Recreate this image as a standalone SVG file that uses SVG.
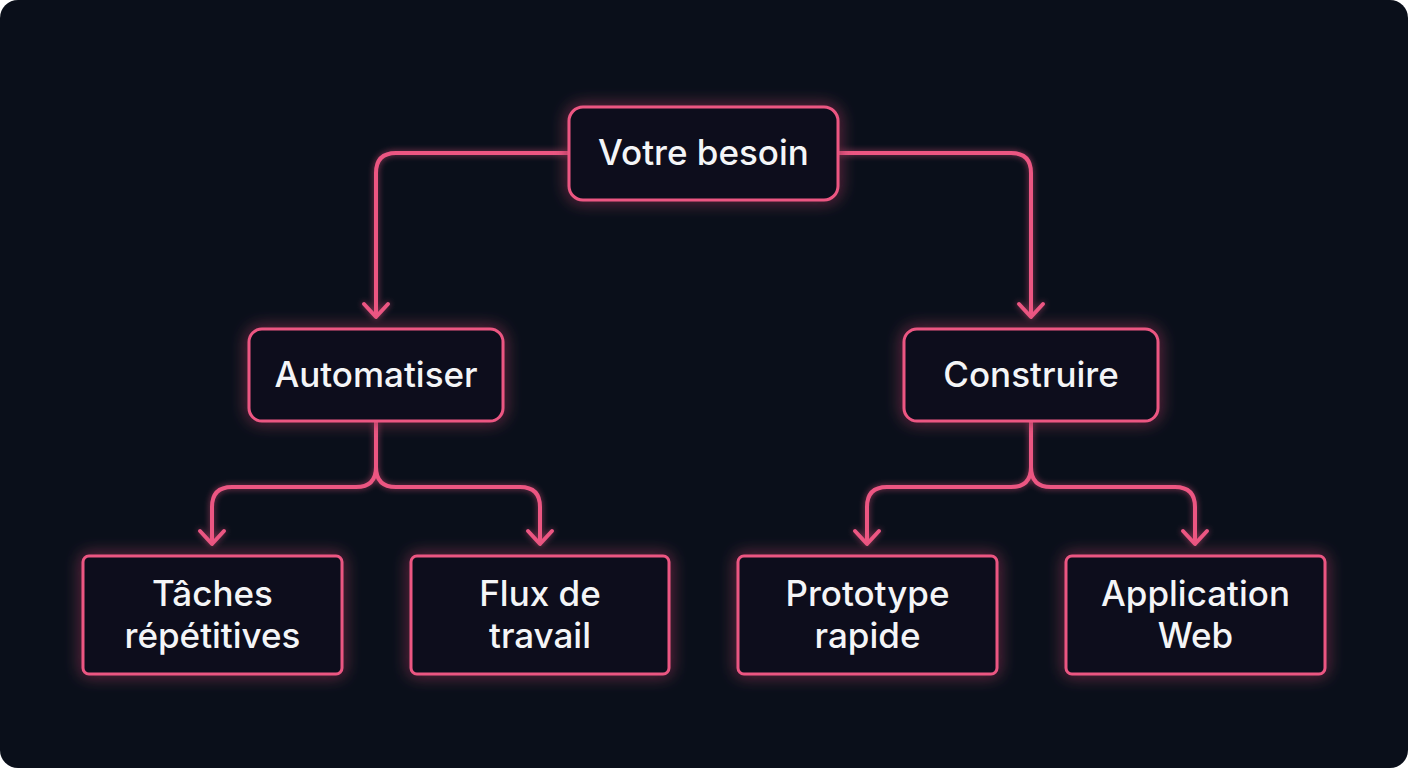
<svg xmlns="http://www.w3.org/2000/svg" width="1408" height="768" viewBox="0 0 1408 768">
<defs>
<style>
.box{fill:#0b0f1c;stroke:#ec5682;stroke-width:3}
.lbl{font-family:Inter,"Noto Sans",sans-serif;font-size:35px;font-weight:500;fill:#f4f5f7;text-anchor:middle}
.con{fill:none;stroke:#ec5682;stroke-width:4;stroke-linecap:round;stroke-linejoin:round}
</style>
<filter id="glow" x="-30%" y="-40%" width="160%" height="180%">
<feGaussianBlur in="SourceGraphic" stdDeviation="8" result="b"/>
<feComponentTransfer in="b" result="b2"><feFuncA type="linear" slope="0.8"/></feComponentTransfer>
<feMerge><feMergeNode in="b2"/><feMergeNode in="SourceGraphic"/></feMerge>
</filter>
<filter id="lglow" x="-10%" y="-10%" width="120%" height="120%">
<feGaussianBlur in="SourceGraphic" stdDeviation="3" result="b"/>
<feComponentTransfer in="b" result="b2"><feFuncA type="linear" slope="0.6"/></feComponentTransfer>
<feMerge><feMergeNode in="b2"/><feMergeNode in="SourceGraphic"/></feMerge>
</filter>
</defs>
<rect x="0" y="0" width="1408" height="768" rx="18" fill="#0a0f1a"/>
<g id="connectors" class="con" filter="url(#lglow)">
<path d="M569 153 H396 Q376 153 376 173 V316"/>
<path d="M364 304 L376 317 L388 304"/>
<path d="M838 153 H1011 Q1031 153 1031 173 V316"/>
<path d="M1019 304 L1031 317 L1043 304"/>
<path d="M376 421 V467 Q376 487 356 487 H232 Q212 487 212 507 V543"/>
<path d="M376 467 Q376 487 396 487 H520 Q540 487 540 507 V543"/>
<path d="M200 531 L212 544 L224 531"/>
<path d="M528 531 L540 544 L552 531"/>
<path d="M1031 421 V467 Q1031 487 1011 487 H887 Q867 487 867 507 V543"/>
<path d="M1031 467 Q1031 487 1051 487 H1175 Q1195 487 1195 507 V543"/>
<path d="M855 531 L867 544 L879 531"/>
<path d="M1183 531 L1195 544 L1207 531"/>
</g>
<g id="root"><rect class="box" x="569" y="107" width="269" height="93" rx="14" filter="url(#glow)"/>
<text class="lbl" x="703.5" y="165">Votre besoin</text></g>
<g id="automatiser"><rect class="box" x="249" y="329" width="254" height="92" rx="13" filter="url(#glow)"/>
<text class="lbl" x="376" y="387">Automatiser</text></g>
<g id="construire"><rect class="box" x="904" y="329" width="254" height="92" rx="13" filter="url(#glow)"/>
<text class="lbl" x="1031" y="387">Construire</text></g>
<g id="taches"><rect class="box" x="83" y="556" width="259" height="118" rx="6" filter="url(#glow)"/>
<text class="lbl" x="212.5" y="606">Tâches</text><text class="lbl" x="212.5" y="648">répétitives</text></g>
<g id="flux"><rect class="box" x="411" y="556" width="258" height="118" rx="6" filter="url(#glow)"/>
<text class="lbl" x="540" y="606">Flux de</text><text class="lbl" x="540" y="648">travail</text></g>
<g id="prototype"><rect class="box" x="738" y="556" width="259" height="118" rx="6" filter="url(#glow)"/>
<text class="lbl" x="867.5" y="606">Prototype</text><text class="lbl" x="867.5" y="648">rapide</text></g>
<g id="application"><rect class="box" x="1066" y="556" width="259" height="118" rx="6" filter="url(#glow)"/>
<text class="lbl" x="1195.5" y="606">Application</text><text class="lbl" x="1195.5" y="648">Web</text></g>
</svg>
